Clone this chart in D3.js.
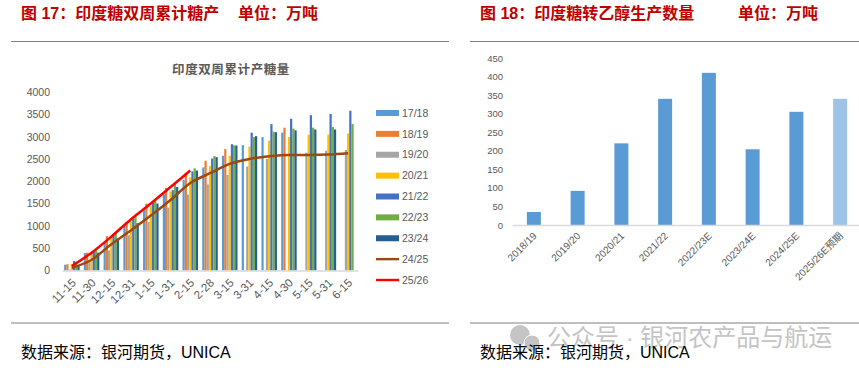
<!DOCTYPE html>
<html>
<head>
<meta charset="utf-8">
<script src="https://cdn.jsdelivr.net/npm/d3@7"></script>
<style>
  html, body { margin: 0; padding: 0; background: #fff; }
  svg { display: block; }
  text { font-family: "Liberation Sans", "Noto Sans CJK SC", sans-serif; }
</style>
</head>
<body>
<script>
// left chart data
var dates = ["11-15","11-30","12-15","12-31","1-15","1-31","2-15","2-28","3-15","3-31","4-15","4-30","5-15","5-31","6-15"];
var barSeries = ["17/18","18/19","19/20","20/21","21/22","22/23","23/24"];
var barColors = ["#5b9bd5","#ed7d31","#a5a5a5","#ffc000","#4472c4","#70ad47","#255e91"];
var s1718 = [130,390,640,1030,1380,1710,2030,2310,2570,2810,2990,3090,null,null,null];
var s1819 = [140,400,770,1090,1500,1850,2190,2460,2720,null,null,3200,null,null,null];
var s1920 = [20,200,450,790,1090,1410,1700,1930,2140,2330,2500,null,2640,2685,2700];
var s2021 = [150,380,780,1100,1440,1770,2090,2340,2570,2775,2910,2990,3040,3045,3070];
var s2122 = [210,420,800,1160,1530,1800,2220,2510,2830,3090,3280,3400,3480,3510,3580];
var s2223 = [200,470,830,1220,1580,1940,2290,2565,2805,2990,3110,3180,3200,3215,3285];
var s2324 = [120,400,720,1060,1500,1870,2240,2540,2800,3010,3100,3140,3160,3160,null];
var s2425 = [60,240,590,900,1230,1580,1960,2180,2390,2500,2560,2590,2590,2600,2630];
var s2526 = [100,400,760,1150,1500,1870,2240];
var yTicks = [0,500,1000,1500,2000,2500,3000,3500,4000];

// right chart data
var seasons = ["2018/19","2019/20","2020/21","2021/22","2022/23E","2023/24E","2024/25E","2025/26E预期"];
var ethanol = [35,92,220,340,410,204,305,340];
var ethanolTicks = [0,50,100,150,200,250,300,350,400,450];

var width = 859, height = 373;
var svg = d3.select("body").append("svg")
    .attr("width", width)
    .attr("height", height);

// watermark goes first, the source line sits on top of it
var mark = svg.append("g").style("fill", "#c4c4c4");
mark.append("circle").attr("cx", 520).attr("cy", 335).attr("r", 10);
mark.append("circle").attr("cx", 532).attr("cy", 343).attr("r", 8).style("stroke", "#fff").style("stroke-width", 1);
svg.append("text").attr("x", 547).attr("y", 346)
    .style("font-size", "24px").style("fill", "#c4c4c4")
    .text("公众号 · 银河农产品与航运");

// headings, rules and source lines
function frame(title, unit, unitX, ruleX0, ruleX1, sourceX) {
    svg.append("text").attr("x", sourceX).attr("y", 19)
        .style("font-size", "16px").style("font-weight", "bold").style("fill", "#c00000")
        .text(title);
    svg.append("text").attr("x", unitX).attr("y", 19)
        .style("font-size", "16px").style("font-weight", "bold").style("fill", "#c00000")
        .text(unit);
    svg.append("line").attr("x1", ruleX0).attr("x2", ruleX1).attr("y1", 41.5).attr("y2", 41.5)
        .style("stroke", "#7f7f7f").style("stroke-width", 1);
    svg.append("line").attr("x1", ruleX0).attr("x2", ruleX1).attr("y1", 323).attr("y2", 323)
        .style("stroke", "#bfbfbf").style("stroke-width", 2);
    svg.append("text").attr("x", sourceX).attr("y", 358)
        .style("font-size", "16px").style("fill", "#000")
        .text("数据来源：银河期货，UNICA");
}
frame("图 17：印度糖双周累计糖产", "单位：万吨", 238, 11, 449, 21);
frame("图 18：印度糖转乙醇生产数量", "单位：万吨", 738, 470, 859, 480);

// left chart
var x0 = d3.scaleBand().domain(dates).range([62, 358]);
var x1 = d3.scaleBand().domain(barSeries).range([0, 15.5]);
var y = d3.scaleLinear().domain([0, 4000]).range([270.5, 92]);

svg.append("text").attr("x", 231).attr("y", 74).attr("text-anchor", "middle")
    .style("font-size", "12.5px").style("font-weight", "bold").style("fill", "#595959")
    .style("letter-spacing", "0.6px")
    .text("印度双周累计产糖量");

var leftY = svg.append("g").attr("transform", "translate(50,0)")
    .call(d3.axisLeft(y).tickValues(yTicks).tickFormat(d3.format("d")).tickSize(0).tickPadding(0));
leftY.select(".domain").remove();
leftY.selectAll("text").style("font-size", "10.5px").style("fill", "#595959");

var allBars = [s1718, s1819, s1920, s2021, s2122, s2223, s2324];
allBars.forEach(function (vals, k) {
    svg.append("g").selectAll("rect")
        .data(vals.map(function (v, i) { return {v: v, d: dates[i]}; })
            .filter(function (d) { return d.v !== null; }))
        .enter().append("rect")
        .attr("x", function (d) { return x0(d.d) + (x0.bandwidth() - 15.5) / 2 + x1(barSeries[k]); })
        .attr("y", function (d) { return y(d.v); })
        .attr("width", x1.bandwidth())
        .attr("height", function (d) { return y(0) - y(d.v); })
        .style("fill", barColors[k]);
});

var leftX = svg.append("g").attr("transform", "translate(0,270.5)")
    .call(d3.axisBottom(x0).tickSize(0));
leftX.select(".domain").style("stroke", "#d9d9d9").style("stroke-width", 1.5);
leftX.selectAll("text")
    .attr("transform", "translate(2,10) rotate(-45)")
    .attr("text-anchor", "end")
    .attr("dy", "0.35em").attr("y", 0)
    .style("font-size", "11.5px").style("fill", "#595959");

var line = d3.line()
    .x(function (d, i) { return x0(dates[i]) + x0.bandwidth() / 2; })
    .y(function (d) { return y(d); })
    .curve(d3.curveMonotoneX);
svg.append("path").attr("d", line(s2425))
    .style("fill", "none").style("stroke", "#9e480e").style("stroke-width", 2.5);
svg.append("path").attr("d", line(s2526))
    .style("fill", "none").style("stroke", "#ff0000").style("stroke-width", 2.5);

// legend
var legendNames = barSeries.concat(["24/25","25/26"]);
var legendColors = barColors.concat(["#9e480e","#ff0000"]);
var legendY = d3.scalePoint().domain(legendNames).range([113, 280]);
var legend = svg.append("g").selectAll("g").data(legendNames).enter().append("g")
    .attr("transform", function (d) { return "translate(376," + legendY(d) + ")"; });
legend.append("rect")
    .attr("x", 0)
    .attr("y", function (d, i) { return i < 7 ? -3 : -1.2; })
    .attr("width", 23)
    .attr("height", function (d, i) { return i < 7 ? 6 : 2.4; })
    .style("fill", function (d, i) { return legendColors[i]; });
legend.append("text").attr("x", 26).attr("dy", "0.35em")
    .style("font-size", "10.5px").style("fill", "#595959")
    .text(function (d) { return d; });

// right chart
var xr = d3.scaleBand().domain(seasons).range([512, 862]).paddingInner(0.68).paddingOuter(0.34);
var yr = d3.scaleLinear().domain([0, 450]).range([225, 58]);

var rightY = svg.append("g").attr("transform", "translate(503,0)")
    .call(d3.axisLeft(yr).tickValues(ethanolTicks).tickSize(0).tickPadding(0));
rightY.select(".domain").remove();
rightY.selectAll("text").style("font-size", "9.5px").style("fill", "#595959");

svg.append("g").selectAll("rect")
    .data(ethanol)
    .enter().append("rect")
    .attr("x", function (d, i) { return xr(seasons[i]); })
    .attr("y", function (d) { return yr(d); })
    .attr("width", xr.bandwidth())
    .attr("height", function (d) { return yr(0) - yr(d); })
    .style("fill", function (d, i) { return i === 7 ? "#9dc3e6" : "#5b9bd5"; });

var rightX = svg.append("g").attr("transform", "translate(0,225)")
    .call(d3.axisBottom(xr).tickSize(0));
rightX.select(".domain").style("stroke", "#d9d9d9").style("stroke-width", 1.5);
rightX.selectAll("text")
    .attr("transform", "translate(1,9) rotate(-45)")
    .attr("text-anchor", "end")
    .attr("dy", "0.35em").attr("y", 0)
    .style("font-size", "10px").style("fill", "#595959");
</script>
</body>
</html>
